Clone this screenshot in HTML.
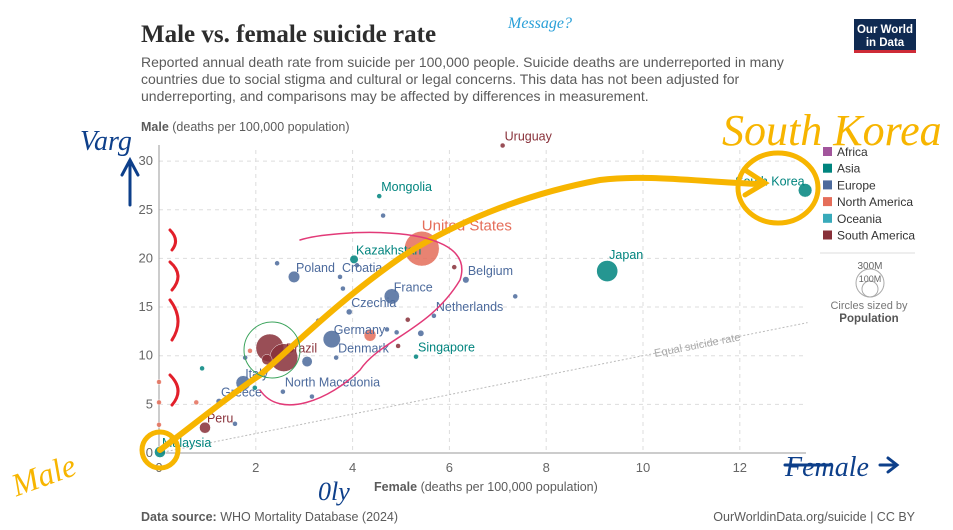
<!DOCTYPE html>
<html><head><meta charset="utf-8">
<style>
body{margin:0;background:#fff;width:953px;height:530px;overflow:hidden;font-family:"Liberation Sans",sans-serif}
svg{display:block}
</style></head><body>
<svg width="953" height="530" viewBox="0 0 953 530" xmlns="http://www.w3.org/2000/svg">
<text x="141" y="42" font-family="Liberation Serif,serif" font-weight="bold" font-size="25" fill="#2d2d2d">Male vs. female suicide rate</text>
<g font-size="14" fill="#5b5b5b">
<text x="141" y="67">Reported annual death rate from suicide per 100,000 people. Suicide deaths are underreported in many</text>
<text x="141" y="84">countries due to social stigma and cultural or legal concerns. This data has not been adjusted for</text>
<text x="141" y="101">underreporting, and comparisons may be affected by differences in measurement.</text>
</g>
<g>
<rect x="854" y="19" width="62" height="31" fill="#0f2a52"/>
<rect x="854" y="50" width="62" height="3" fill="#ce2b37"/>
<text x="885" y="33" font-size="11.5" font-weight="bold" fill="#fff" text-anchor="middle">Our World</text>
<text x="885" y="46" font-size="11.5" font-weight="bold" fill="#fff" text-anchor="middle">in Data</text>
</g>
<text x="141" y="131" font-size="12.5" fill="#5b5b5b"><tspan font-weight="bold">Male</tspan> (deaths per 100,000 population)</text>
<g id="grid"></g>
<g id="marks"></g>
<text x="374" y="491" font-size="12.5" fill="#5b5b5b"><tspan font-weight="bold">Female</tspan> (deaths per 100,000 population)</text>
<g id="legend"></g>
<line x1="820" y1="253" x2="915" y2="253" stroke="#ddd"/>
<g>
<text x="870" y="269" font-size="10" fill="#666" text-anchor="middle">300M</text>
<circle cx="870" cy="283" r="14" fill="none" stroke="#aaa"/>
<circle cx="870" cy="289" r="8" fill="none" stroke="#aaa"/>
<text x="870" y="282" font-size="9" fill="#666" text-anchor="middle">100M</text>
<text x="869" y="309" font-size="11" fill="#777" text-anchor="middle">Circles sized by</text>
<text x="869" y="322" font-size="11.5" font-weight="bold" fill="#555" text-anchor="middle">Population</text>
</g>
<text x="141" y="521" font-size="12.5" fill="#5b5b5b"><tspan font-weight="bold">Data source:</tspan> WHO Mortality Database (2024)</text>
<text x="915" y="521" font-size="12.5" fill="#5b5b5b" text-anchor="end">OurWorldinData.org/suicide | CC BY</text>
<g fill="none" stroke-linecap="round">
<path d="M160 450 C200 420 230 395 260 375 C300 340 340 300 400 258 C450 225 520 195 600 180 C650 174 700 182 760 184" stroke="#f7b500" stroke-width="6"/>
<path d="M745 170 L765 183 L745 195" stroke="#f7b500" stroke-width="5"/>
<ellipse cx="778" cy="188" rx="40" ry="35" stroke="#f7b500" stroke-width="5"/>
<circle cx="160" cy="450" r="18" stroke="#f7b500" stroke-width="5"/>
<path d="M170 230 Q180 240 172 250 M170 262 Q185 275 172 290 M170 300 Q185 320 172 340 M170 375 Q185 390 172 405" stroke="#e21f2a" stroke-width="3"/>
<path d="M130 205 L130 165 M122 175 L130 160 L138 175" stroke="#0d3f8a" stroke-width="3"/>
<path d="M785 465 L830 465 M880 465 L895 465 M888 458 L897 465 L888 472" stroke="#0d3f8a" stroke-width="3"/>
<path d="M300 240 C330 230 480 220 460 280 C430 330 380 340 360 370 C330 400 280 420 260 390" stroke="#e23a78" stroke-width="1.5"/>
<circle cx="272" cy="350" r="28" stroke="#3aa35b" stroke-width="1"/>
</g>
<g font-family="Liberation Serif,serif" font-style="italic">
<text x="722" y="145" font-size="44" fill="#f7b500">South Korea</text>
<text x="10" y="480" font-size="32" fill="#f7b500" transform="rotate(-20 60 470)">Male</text>
<text x="785" y="476" font-size="28" fill="#0d3f8a">Female</text>
<text x="318" y="500" font-size="26" fill="#0d3f8a">0ly</text>
<text x="80" y="150" font-size="28" fill="#0d3f8a">Varg</text>
<text x="508" y="28" font-size="16" fill="#2aa0d8">Message?</text>
</g>
</svg>
<script>
const xTicks=[0,2,4,6,8,10,12];
const yTicks=[0,5,10,15,20,25,30];
const regions=["Africa","Asia","Europe","North America","Oceania","South America"];
const regionColors=["#a2559c","#00847e","#4c6a9c","#e56e5a","#38aaba","#883039"];
const names=["Uruguay","Mongolia","","United States","Kazakhstan","","Poland","","Croatia","","France","Czechia","Germany","","","","","Netherlands","","Singapore","","Denmark","Belgium","","","Japan","South Korea","","Brazil","","","","Italy","Greece","","","","","North Macedonia","","","Peru","","Malaysia","","",""];
const female=[7.1,4.55,4.63,5.43,4.03,4.09,2.79,2.44,3.74,3.8,4.81,3.93,3.57,4.36,4.71,4.91,5.14,5.68,5.41,5.31,4.94,3.66,6.34,6.1,7.36,9.26,13.35,2.29,2.58,2.23,3.06,3.29,1.74,1.24,0.77,0.89,1.88,1.78,2.56,3.16,1.98,0.95,1.57,0.02,0.0,0.0,0.0];
const male=[31.6,26.4,24.4,21.0,19.9,19.3,18.1,19.5,18.1,16.9,16.1,14.5,11.7,12.1,12.7,12.4,13.7,14.1,12.3,9.9,11.0,9.8,17.8,19.1,16.1,18.7,27.0,10.8,9.8,9.6,9.4,13.6,7.2,5.3,5.2,8.7,10.5,9.8,6.3,5.8,6.7,2.6,3.0,0.1,7.3,5.2,2.9];
const region=[5,1,2,3,1,2,2,2,2,2,2,2,2,3,2,2,5,2,2,1,5,2,2,5,2,1,1,5,5,5,2,2,2,2,3,1,3,2,2,2,1,5,2,1,3,3,3];
const population=[3,3,3,335,20,4,37,2,4,2,65,10,84,40,5,5,3,6,11,3,3,6,12,3,2,124,52,215,215,30,30,5,59,10,3,3,3,5,2,3,3,34,3,34,3,3,3];
const labelSizes=["United States"];
const X=v=>159+v*48.4, Y=v=>453-v*9.73;
const NS="http://www.w3.org/2000/svg";
const grid=document.getElementById('grid'), marks=document.getElementById('marks'), leg=document.getElementById('legend');
function mk(tag,attrs,parent,txt){const e=document.createElementNS(NS,tag);for(const k in attrs)e.setAttribute(k,attrs[k]);if(txt!==undefined)e.textContent=txt;parent.appendChild(e);return e;}
yTicks.forEach(t=>{
  if(t>0){const l=mk('line',{x1:159,x2:806,y1:Y(t),y2:Y(t),stroke:'#ddd','stroke-dasharray':'4,4'},grid);
  
  }
  const tx=mk('text',{x:153,y:Y(t)+4,'font-size':13,fill:'#666','text-anchor':'end'},grid,t);
  
  
});
xTicks.forEach(t=>{
  if(t>0){const l=mk('line',{x1:X(t),x2:X(t),y1:150,y2:453,stroke:'#ddd','stroke-dasharray':'4,4'},grid);
  
  }
  const tx=mk('text',{x:X(t),y:472,'font-size':13,fill:'#666','text-anchor':'middle'},grid,t);
  
  
});
mk('line',{x1:159,x2:159,y1:145,y2:453,stroke:'#999'},grid);
mk('line',{x1:159,x2:806,y1:453,y2:453,stroke:'#999'},grid);
const eq=mk('line',{x1:X(0),y1:Y(0),x2:X(13.4),y2:Y(13.4),stroke:'#bbb','stroke-dasharray':'2,2'},grid);


const eqt=mk('text',{x:0,y:0,'font-size':11,fill:'#aaa',transform:`translate(655,357) rotate(-11)`},grid,'Equal suicide rate');


const idx=female.map((_,i)=>i).sort((a,b)=>population[b]-population[a]);
idx.forEach(i=>{
  const r=Math.max(2.5,Math.sqrt(population[i])*0.95);
  const c=mk('circle',{cx:X(female[i]),cy:Y(male[i]),r:r,fill:regionColors[region[i]],stroke:'#fff','stroke-width':0.5,opacity:0.85},marks);
  
  
});
female.forEach((f,i)=>{
  if(!names[i])return;
  const big=labelSizes.includes(names[i]);
  const t=mk('text',{x:X(f)+(big?0:2),y:Y(male[i])-(big?18:5),'font-size':big?15:12.5,fill:regionColors[region[i]]},marks,names[i]);
  if(names[i]==="South Korea"){t.setAttribute('x',X(f)-70);t.setAttribute('y',Y(male[i])-5);}
  if(names[i]==="Japan"){t.setAttribute('y',Y(male[i])-12);}
  
  
});
regions.forEach((r,i)=>{
  const y=152+i*16.7;
  const s=mk('rect',{x:823,y:y-5,width:9,height:9,fill:regionColors[i]},leg);
  
  
  const t=mk('text',{x:837,y:y+4,'font-size':12,fill:'#333'},leg,r);
  
  
});
</script>
</body></html>
